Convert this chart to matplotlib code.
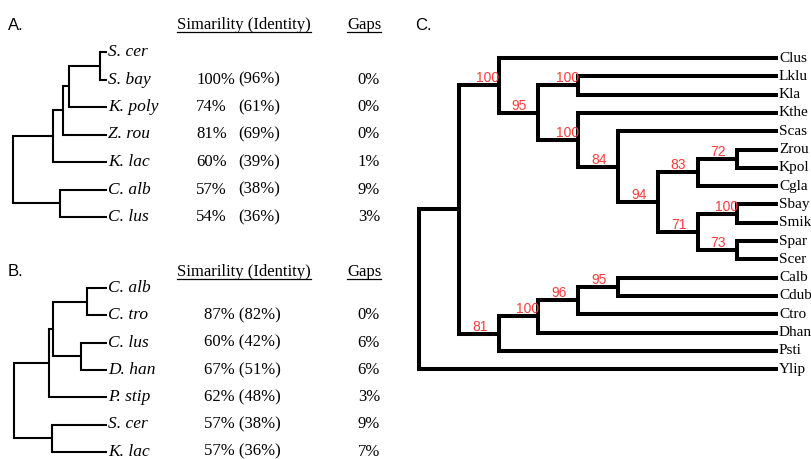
import matplotlib
matplotlib.use('Agg')
import matplotlib.pyplot as plt
import numpy as np

# panel A: tree (newick, branch lengths) and alignment stats per leaf
tree_a = '(((((S. cer:0.07,S. bay:0.07):0.31,K. poly:0.38):0.06,Z. rou:0.44):0.10,K. lac:0.54):0.40,(C. alb:0.47,C. lus:0.47):0.47);'
sim_a = [None, 100, 74, 81, 60, 57, 54]
ident_a = [None, 96, 61, 69, 39, 38, 36]
gaps_a = [None, 0, 0, 0, 1, 9, 3]

# panel B
tree_b = '((((C. alb:0.20,C. tro:0.20):0.34,(C. lus:0.26,D. han:0.26):0.28):0.04,P. stip:0.58):0.35,(S. cer:0.55,K. lac:0.55):0.38);'
sim_b = [None, 87, 60, 67, 62, 57, 57]
ident_b = [None, 82, 42, 51, 48, 38, 36]
gaps_b = [None, 0, 6, 6, 3, 9, 7]

# panel C: cladogram with bootstrap support as internal node names
tree_c = '(((Clus,((Lklu,Kla)100,(Kthe,(Scas,(((Zrou,Kpol)72,Cgla)83,((Sbay,Smik)100,(Spar,Scer)73)71)94)84)100)95)100,((((Calb,Cdub)95,Ctro)96,Dhan)100,Psti)81),Ylip);'

header_sim = 'Simarility (Identity)'
header_gaps = 'Gaps'

SERIF = 'Liberation Serif'
SANS = 'Liberation Sans'
RED = '#ff3b3b'


def parse_newick(s):
    pos = 0

    def node():
        nonlocal pos
        children = []
        if s[pos] == '(':
            pos += 1
            children.append(node())
            while s[pos] == ',':
                pos += 1
                children.append(node())
            pos += 1
        start = pos
        while s[pos] not in ',():;':
            pos += 1
        name = s[start:pos]
        length = 0.0
        if s[pos] == ':':
            pos += 1
            start = pos
            while s[pos] not in ',();':
                pos += 1
            length = float(s[start:pos])
        return {'name': name, 'len': length, 'children': children}

    return node()


def layout(tree, x0, y0, dy, scale=None, dx=None, x_end=None):
    leaves = []

    def walk(n, px, depth):
        if scale is not None:
            n['x'] = px + n['len'] * scale
        elif n['children']:
            n['x'] = x0 + depth * dx
        else:
            n['x'] = x_end
        if n['children']:
            for c in n['children']:
                walk(c, n['x'], depth + 1)
            n['y'] = np.mean([c['y'] for c in n['children']])
        else:
            n['y'] = y0 + len(leaves) * dy
            leaves.append(n)

    walk(tree, x0, 0)
    return leaves


def draw_tree(ax, n, lw, support=False, is_root=True):
    if not n['children']:
        return
    c1, c2 = n['children'][0], n['children'][-1]
    ax.plot([c1['x'], n['x'], n['x'], c2['x']], [c1['y'], c1['y'], c2['y'], c2['y']],
            color='black', lw=lw, solid_joinstyle='miter', solid_capstyle='butt')
    if support and n['name'] and not is_root:
        off = -19 + 8 * (len(n['name']) - 2)
        ax.text(n['x'] + off, n['y'] - 3, n['name'], color=RED, fontsize=10,
                family=SANS, ha='center', va='baseline')
    for c in n['children']:
        draw_tree(ax, c, lw, support, False)


def underline(ax, fig, t):
    r = fig.canvas.get_renderer()
    bb = t.get_window_extent(r)
    inv = ax.transData.inverted()
    (x0, y0), (x1, y1) = inv.transform([[bb.x0, bb.y0 + 1], [bb.x1, bb.y0 + 1]])
    ax.plot([x0, x1], [y0, y1], color='black', lw=0.9)


fig = plt.figure(figsize=(8.12, 4.59), dpi=100)
ax = fig.add_axes([0, 0, 1, 1])
ax.set_xlim(0, 812)
ax.set_ylim(459, 0)
ax.axis('off')

panels = [
    ('A.', 25, tree_a, 13, 52, 27.5, sim_a, ident_a, gaps_a, False),
    ('B.', 272, tree_b, 14, 288, 27.3, sim_b, ident_b, gaps_b, True),
]
for lab, hy, nwk, x0, y0, dy, sims, idents, gaps, joined in panels:
    ax.text(8, hy, lab, fontsize=12, family=SANS, ha='left', va='center')
    h1 = ax.text(177, hy, header_sim, fontsize=12, family=SERIF, ha='left', va='center')
    h2 = ax.text(347, hy, header_gaps, fontsize=12, family=SERIF, ha='left', va='center')
    underline(ax, fig, h1)
    underline(ax, fig, h2)

    tree = parse_newick(nwk)
    leaves = layout(tree, x0, y0, dy, scale=100)
    draw_tree(ax, tree, 1.5)
    for i, leaf in enumerate(leaves):
        y = leaf['y']
        ax.text(leaf['x'] + 1, y, leaf['name'], fontsize=12.5, family=SERIF,
                style='italic', ha='left', va='center')
        if sims[i] is None:
            continue
        if joined:
            ax.text(204, y, f'{sims[i]}% ({idents[i]}%)', fontsize=12, family=SERIF,
                    ha='left', va='center')
        else:
            ax.text(196, y, f'{sims[i]}%', fontsize=12, family=SERIF, ha='left', va='center')
            ax.text(238, y, f'({idents[i]}%)', fontsize=12, family=SERIF, ha='left', va='center')
        ax.text(380, y, f'{gaps[i]}%', fontsize=12, family=SERIF, ha='right', va='center')

# panel C
ax.text(415, 26, 'C.', fontsize=12, family=SANS, ha='left', va='center')
tree = parse_newick(tree_c)
leaves = layout(tree, 419, 58, 18.3, dx=39.8, x_end=778)
draw_tree(ax, tree, 2.9, support=True)
for leaf in leaves:
    ax.text(leaf['x'] + 1, leaf['y'], leaf['name'], fontsize=11, family=SERIF,
            ha='left', va='center')

fig.savefig('out.png', dpi=100)
